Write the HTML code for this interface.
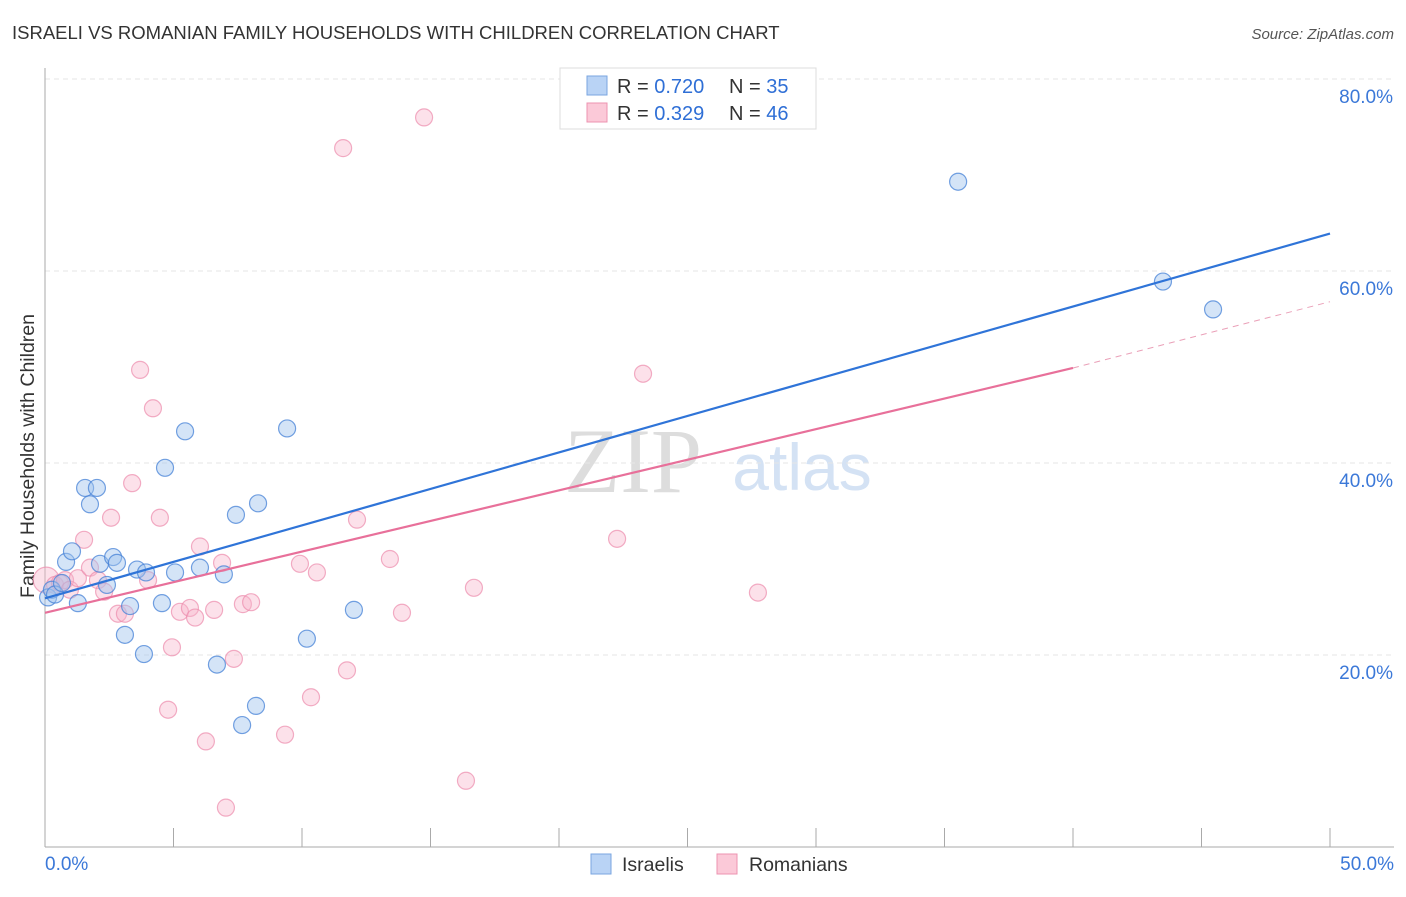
<!DOCTYPE html>
<html><head><meta charset="utf-8"><style>
body{margin:0;background:#fff;font-family:"Liberation Sans",sans-serif;}
</style></head><body>
<svg width="1406" height="892" xmlns="http://www.w3.org/2000/svg" id="svg" font-family="Liberation Sans, sans-serif">
<text x="12" y="39" font-size="18.5" fill="#333">ISRAELI VS ROMANIAN FAMILY HOUSEHOLDS WITH CHILDREN CORRELATION CHART</text>
<text x="1394" y="39" font-size="15" fill="#555" font-style="italic" text-anchor="end">Source: ZipAtlas.com</text>
<text x="633" y="492" font-size="92" fill="#ddd" font-family="Liberation Serif, serif" text-anchor="middle">ZIP</text>
<text x="802" y="490" font-size="66" fill="#d4e2f4" text-anchor="middle">atlas</text>
<text transform="translate(34,456) rotate(-90)" font-size="19.5" fill="#333" text-anchor="middle">Family Households with Children</text>
<g id="grid"></g><g id="marks"></g>
<g>
<rect x="560" y="68" width="256" height="61" fill="#fff" stroke="#ddd"/>
<rect x="587" y="76" width="20" height="19" fill="#b9d3f5" stroke="#7aa6e0"/>
<rect x="587" y="103" width="20" height="19" fill="#fbc9d8" stroke="#ec93b0"/>
<text x="617" y="93" font-size="20" fill="#333">R = <tspan fill="#2f6fd6">0.720</tspan><tspan x="729">N = </tspan><tspan fill="#2f6fd6">35</tspan></text>
<text x="617" y="120" font-size="20" fill="#333">R = <tspan fill="#2f6fd6">0.329</tspan><tspan x="729">N = </tspan><tspan fill="#2f6fd6">46</tspan></text>
</g>
<g>
<rect x="591" y="854" width="20" height="20" fill="#b9d3f5" stroke="#7aa6e0"/>
<text x="622" y="871" font-size="19.5" fill="#333">Israelis</text>
<rect x="717" y="854" width="20" height="20" fill="#fbc9d8" stroke="#ec93b0"/>
<text x="749" y="871" font-size="19.5" fill="#333">Romanians</text>
</g>
</svg>
<script>
const yTicks=[20,40,60,80];
const xTickLabels=["0.0%","50.0%"];
const israeliX=[0.12,0.27,0.39,0.66,0.82,1.05,1.28,1.56,1.75,2.02,2.14,2.41,2.65,2.80,3.31,3.11,3.58,3.85,3.93,4.55,4.67,5.06,5.45,6.03,6.69,6.96,7.43,7.67,8.21,8.29,9.42,10.19,12.02,35.53,43.5,45.45];
const israeliY=[26.0,26.8,26.3,27.5,29.7,30.8,25.4,37.4,35.7,37.4,29.5,27.3,30.2,29.6,25.1,22.1,28.9,20.1,28.6,25.4,39.5,28.6,43.3,29.1,19.0,28.4,34.6,12.7,14.7,35.8,43.6,21.7,24.7,69.3,58.9,56.0];
const romanianX=[0.05,0.39,0.58,0.78,0.97,1.28,1.52,1.75,2.06,2.30,2.57,2.84,3.11,3.39,3.70,4.01,4.20,4.47,4.79,4.94,5.25,5.64,5.84,6.03,6.26,6.58,6.89,7.04,7.35,7.70,8.02,9.34,9.92,10.35,10.58,11.60,11.75,12.14,13.42,13.89,14.75,16.38,16.69,22.26,23.27,27.74];
const romanianY=[27.8,27.3,27.5,27.8,26.8,28.0,32.0,29.1,27.8,26.6,34.3,24.3,24.3,37.9,49.7,27.8,45.7,34.3,14.3,20.8,24.5,24.9,23.9,31.3,11.0,24.7,29.6,4.1,19.6,25.3,25.5,11.7,29.5,15.6,28.6,72.8,18.4,34.1,30.0,24.4,76.0,6.9,27.0,32.1,49.3,26.5];
const israeliTrend=[[0,25.9],[50,63.9]];
const romanianTrend=[[0,24.4],[40,49.9]];
const romanianTrendDash=[[40,49.9],[50,56.8]];
const NS="http://www.w3.org/2000/svg";
const sx=v=>45+v*25.7, sy=v=>847-v*9.6;
function mk(t,a,p){const e=document.createElementNS(NS,t);for(const k in a)e.setAttribute(k,a[k]);p.appendChild(e);return e;}
const grid=document.getElementById('grid'), marks=document.getElementById('marks');
yTicks.forEach(t=>{
 const l=mk('line',{x1:45,x2:1394,y1:sy(t),y2:sy(t),stroke:'#e6e6e6','stroke-dasharray':'5,4'},grid);
 
 
 const tx=mk('text',{x:1393,y:sy(t)+24,'font-size':19,fill:'#3b78d8','text-anchor':'end'},grid);
 tx.textContent=t.toFixed(1)+'%';
 
 
});
mk('line',{x1:45,x2:45,y1:68,y2:847,stroke:'#aaa'},grid);
mk('line',{x1:45,x2:1394,y1:847,y2:847,stroke:'#aaa'},grid);
for(let i=0;i<=10;i++){const x=sx(i*5);mk('line',{x1:x,x2:x,y1:828,y2:847,stroke:'#aaa'},grid);}
const xl0=mk('text',{x:45,y:870,'font-size':19,fill:'#3b78d8'},grid);xl0.textContent=xTickLabels[0];


const xl1=mk('text',{x:1394,y:870,'font-size':19,fill:'#3b78d8','text-anchor':'end'},grid);xl1.textContent=xTickLabels[1];


romanianX.forEach((x,i)=>{
 const c=mk('circle',{cx:sx(x),cy:sy(romanianY[i]),r:i==0?13:8.5,fill:'rgba(248,180,202,0.4)',stroke:'rgba(236,140,172,0.7)','stroke-width':1.2},marks);
 
 
});
israeliX.forEach((x,i)=>{
 const c=mk('circle',{cx:sx(x),cy:sy(israeliY[i]),r:8.5,fill:'rgba(160,195,238,0.45)',stroke:'rgba(70,130,215,0.75)','stroke-width':1.2},marks);
 
 
});
const l1=mk('line',{x1:sx(israeliTrend[0][0]),y1:sy(israeliTrend[0][1]),x2:sx(israeliTrend[1][0]),y2:sy(israeliTrend[1][1]),stroke:'#2f74d8','stroke-width':2.2},marks);


const l2=mk('line',{x1:sx(romanianTrend[0][0]),y1:sy(romanianTrend[0][1]),x2:sx(romanianTrend[1][0]),y2:sy(romanianTrend[1][1]),stroke:'#e8709a','stroke-width':2.2},marks);


const l3=mk('line',{x1:sx(romanianTrendDash[0][0]),y1:sy(romanianTrendDash[0][1]),x2:sx(romanianTrendDash[1][0]),y2:sy(romanianTrendDash[1][1]),stroke:'#eaa0b8','stroke-width':1,'stroke-dasharray':'6,5'},marks);


</script>
</body></html>
